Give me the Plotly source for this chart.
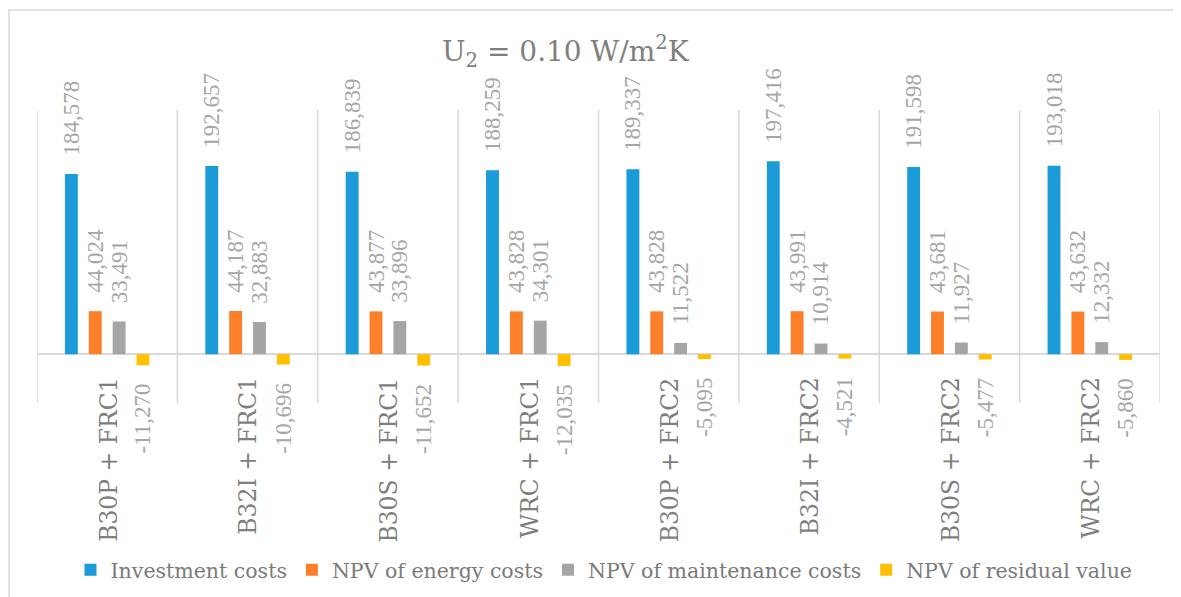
import plotly.graph_objects as go

categories = ["B30P + FRC1", "B32I + FRC1", "B30S + FRC1", "WRC + FRC1",
              "B30P + FRC2", "B32I + FRC2", "B30S + FRC2", "WRC + FRC2"]
investment = [184578, 192657, 186839, 188259, 189337, 197416, 191598, 193018]
energy = [44024, 44187, 43877, 43828, 43828, 43991, 43681, 43632]
maintenance = [33491, 32883, 33896, 34301, 11522, 10914, 11927, 12332]
residual = [-11270, -10696, -11652, -12035, -5095, -4521, -5477, -5860]

series = [
    ("Investment costs", investment, "#1B9BD7"),
    ("NPV of energy costs", energy, "#FE7F2A"),
    ("NPV of maintenance costs", maintenance, "#A5A5A5"),
    ("NPV of residual value", residual, "#FFC000"),
]

OFF = 8  # page body margin
W, H = 1181 - OFF, 597 - OFF
ML, MR, MT, MB = 37 - OFF, 21, 110 - OFF, 194
PW, PH = W - ML - MR, H - MT - MB
YMIN, YMAX = -50000, 250000

def px_x(p):
    return (p - OFF - ML) / PW

def px_y(p):
    return (H - MB - (p - OFF)) / PH

NB = "\u00a0"
PAD = NB * 2 + "\u2006"

def label(v):
    s = f"{v:,}"
    return PAD + s if v >= 0 else s + PAD

xs = list(range(len(categories)))
fig = go.Figure()
for name, vals, col in series:
    fig.add_trace(go.Bar(
        x=xs, y=vals, name=name, marker=dict(color=col, line=dict(width=0)),
        text=[label(v) for v in vals], textposition="outside", textangle=-90,
        constraintext="none", cliponaxis=False,
        textfont=dict(family="Liberation Serif", size=23, color="#A6A6A6"),
    ))

# separators between categories
for i in range(len(categories) + 1):
    fig.add_shape(type="line", xref="x", yref="y", x0=i - 0.5, x1=i - 0.5,
                  y0=YMIN, y1=YMAX, line=dict(color="#D9D9D9", width=1.5), layer="below")

# category labels
for i, c in enumerate(categories):
    fig.add_annotation(x=i, y=0, xref="x", yref="y", text=c, textangle=-90,
                       showarrow=False, xanchor="center", yanchor="top", yshift=-21, xshift=1,
                       font=dict(family="DejaVu Serif", size=23.5, color="#7F7F7F"))

# title
fig.add_annotation(x=px_x(566), y=px_y(52), xref="paper", yref="paper",
                   text="U<sub>2</sub> = 0.10 W/m<sup>2</sup>K", showarrow=False,
                   xanchor="center", yanchor="middle",
                   font=dict(family="DejaVu Serif", size=28, color="#7F7F7F"))

# chart border (left and top visible)
fig.add_shape(type="rect", xref="paper", yref="paper",
              x0=px_x(9), x1=px_x(1181 + 20), y0=px_y(10), y1=px_y(597 + 20),
              line=dict(color="#D9D9D9", width=1.5), layer="below")

fig.update_layout(
    width=W, height=H,
    margin=dict(l=ML, r=MR, t=MT, b=MB, autoexpand=False),
    paper_bgcolor="white", plot_bgcolor="white",
    barmode="group", bargap=0.32, bargroupgap=0.46,
    showlegend=True,
    legend=dict(orientation="h", x=px_x(604), y=px_y(570), xanchor="center", yanchor="middle",
                font=dict(family="DejaVu Serif", size=20.5, color="#7A7A7A"),
                itemwidth=30, tracegroupgap=0, bgcolor="rgba(0,0,0,0)"),
    xaxis=dict(range=[-0.5, len(categories) - 0.5], showticklabels=False, showgrid=False,
               zeroline=False, showline=False, ticks=""),
    yaxis=dict(range=[YMIN, YMAX], showticklabels=False, showgrid=False,
               zeroline=True, zerolinecolor="#D9D9D9", zerolinewidth=2, showline=False, ticks=""),
)

fig.write_html("out.html")
